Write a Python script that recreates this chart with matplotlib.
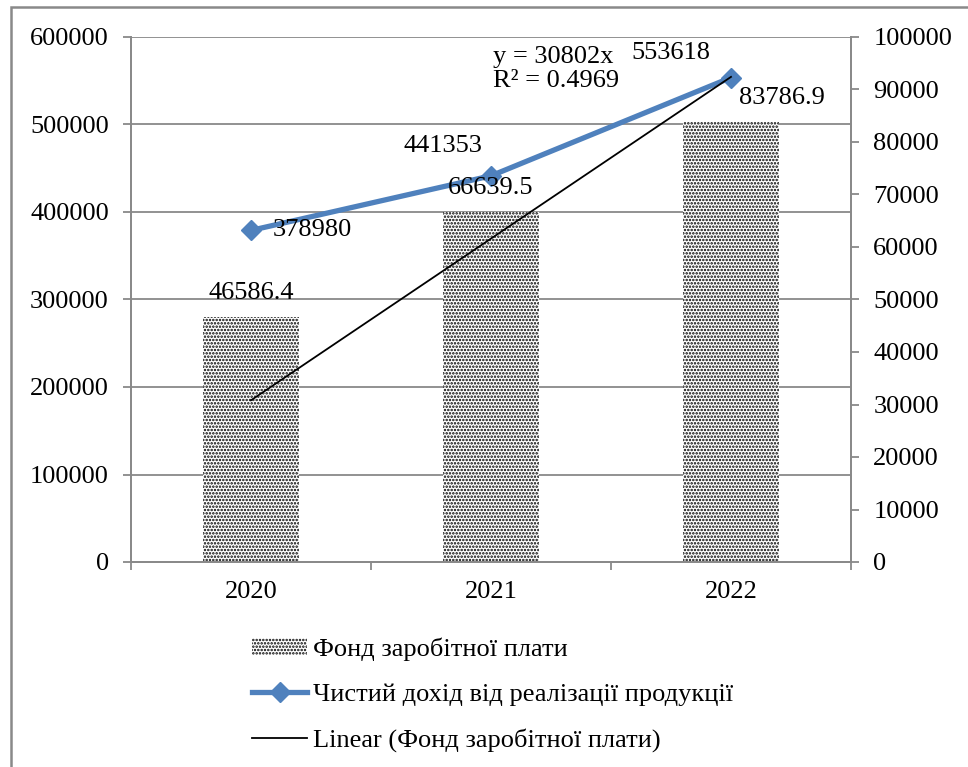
import matplotlib.pyplot as plt
import numpy as np
from matplotlib.lines import Line2D
from matplotlib.patches import Patch, Rectangle

plt.rcParams['font.family'] = ['Liberation Serif', 'DejaVu Serif']
plt.rcParams['font.size'] = 19
plt.rcParams['hatch.linewidth'] = 1.2

years = ['2020', '2021', '2022']
fund = [46586.4, 66639.5, 83786.9]          # Фонд заробітної плати (right axis)
revenue = [378980, 441353, 553618]          # Чистий дохід (left axis)
r_squared = 0.4969

left_ticks = np.arange(0, 600001, 100000)
right_ticks = np.arange(0, 100001, 10000)

grey = '#898989'
blue = '#4F81BD'

x = np.arange(len(years))
t = x + 1
slope = np.sum(t * np.array(fund)) / np.sum(t ** 2)  # linear trend through origin

fig = plt.figure(figsize=(9.68, 7.67), dpi=100)
W, H = 968, 767
ax = fig.add_axes([131 / W, 1 - 562 / H, (851 - 131) / W, (562 - 37) / H])
ax2 = ax.twinx()
ax.set_zorder(ax2.get_zorder() + 1)
ax.patch.set_visible(False)

# bars on secondary axis
ax2.bar(x, fund, width=0.4, color='white', edgecolor='black', linewidth=0,
        hatch='.....', zorder=2)
ax2.set_ylim(0, 100000)
ax2.set_yticks(right_ticks)
ax2.set_yticklabels([f'{v:d}' for v in right_ticks])

ax.set_ylim(0, 600000)
ax.set_xlim(-0.5, 2.5)
ax.set_yticks(left_ticks)
ax.set_yticklabels([f'{v:d}' for v in left_ticks])
ax.set_xticks(x)
ax.set_xticklabels(years)
ax.set_xticks([-0.5, 0.5, 1.5, 2.5], minor=True)

# horizontal grid behind the bars
ax2.hlines(left_ticks[1:], -0.5, 2.5, color=grey, linewidth=1.3,
           transform=ax.transData, zorder=1)

ax.plot(x, revenue, color=blue, linewidth=3.8, marker='D', markersize=10.5,
        zorder=3)
ax.plot(x, slope * t, color='black', linewidth=1.3, zorder=4,
        transform=ax2.transData)

for sp in ['top']:
    ax.spines[sp].set_visible(False)
    ax2.spines[sp].set_visible(False)
for a in (ax, ax2):
    for sp in ['left', 'right', 'bottom']:
        a.spines[sp].set_color(grey)
        a.spines[sp].set_linewidth(1.3)
ax.tick_params(axis='x', which='major', length=0, pad=14)
ax.tick_params(axis='x', which='minor', length=6, width=1.3, color=grey)
ax.tick_params(axis='y', length=6, width=1.3, color=grey, pad=10)
ax2.tick_params(axis='y', length=6, width=1.3, color=grey, pad=10)

# data labels
rev_off = [(61, 0), (-48, 30), (-60, 25)]
for xi, v, off in zip(x, revenue, rev_off):
    ax.annotate(f'{v}', (xi, v), xytext=off, textcoords='offset pixels',
                ha='center', va='center', zorder=6)
fund_off = [(0, 24), (0, 24), (51, 24)]
for xi, v, off in zip(x, fund, fund_off):
    ax.annotate(f'{v}', (xi, v), xycoords=ax2.transData, xytext=off,
                textcoords='offset pixels', ha='center', va='center', zorder=6)

ax.annotate(f'y = {slope:.0f}x\nR² = {r_squared}', (2, slope * 3),
            xycoords=ax2.transData, xytext=(-238, 8),
            textcoords='offset pixels', ha='left', va='center',
            linespacing=1.1, zorder=6)

handles = [
    Patch(facecolor='white', edgecolor='black', linewidth=0, hatch='.....'),
    Line2D([], [], color=blue, linewidth=3.8, marker='D', markersize=10.5),
    Line2D([], [], color='black', linewidth=1.3),
]
labels = ['Фонд заробітної плати', 'Чистий дохід від реалізації продукції',
          'Linear (Фонд заробітної плати)']
fig.legend(handles, labels, loc='center left',
           bbox_to_anchor=(252 / W, 1 - 695 / H), frameon=False,
           handlelength=2.1, handleheight=0.6, handletextpad=0.2,
           labelspacing=0.85, borderpad=0, borderaxespad=0)

# chart frame
fig.add_artist(Rectangle((11 / W, -0.1), 1.1, 1 - 7 / H + 0.1,
                         transform=fig.transFigure, fill=False,
                         edgecolor=grey, linewidth=1.8))

fig.savefig('out.png', dpi=100)
